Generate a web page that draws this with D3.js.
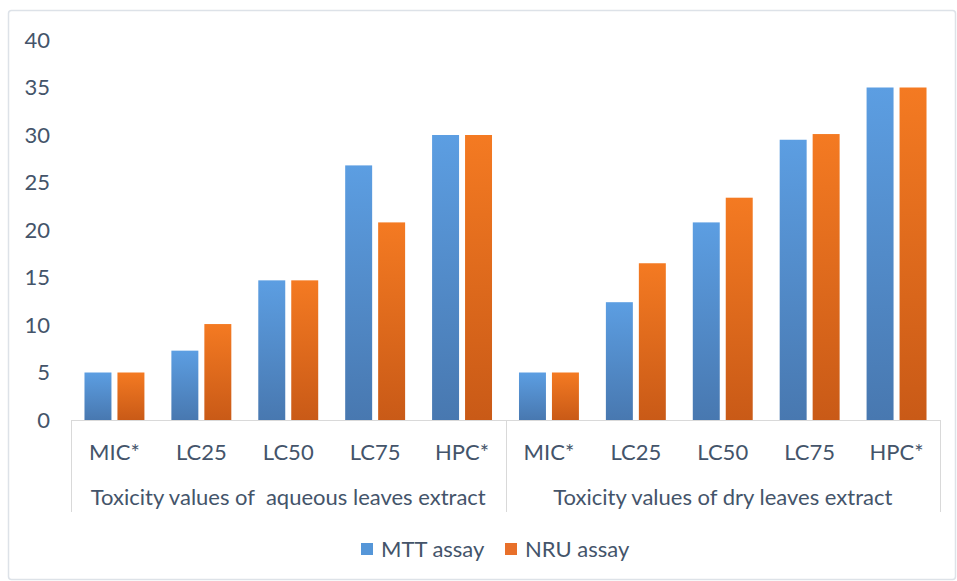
<!DOCTYPE html>
<html>
<head>
<meta charset="utf-8">
<script src="https://cdn.jsdelivr.net/npm/d3@7"></script>
<style>
  body { margin: 0; background: #fff; }
  text { font-family: Lato, "Open Sans", sans-serif; fill: #44546a; white-space: pre; }
</style>
</head>
<body>
<div id="chart"></div>
<script>
// chart data
var groups = ["Toxicity values of  aqueous leaves extract", "Toxicity values of dry leaves extract"];
var categories = ["MIC*", "LC25", "LC50", "LC75", "HPC*"];
var seriesNames = ["MTT assay", "NRU assay"];
var mttAqueous = [5, 7.3, 14.7, 26.8, 30];
var nruAqueous = [5, 10.1, 14.7, 20.8, 30];
var mttDry = [5, 12.4, 20.8, 29.5, 35];
var nruDry = [5, 16.5, 23.4, 30.1, 35];
var yTicks = [0, 5, 10, 15, 20, 25, 30, 35, 40];

var svgWidth = 957;
var svgHeight = 581;
var fontSize = 22;

var margin = { top: 40, right: 17, bottom: 161, left: 71 };
var width = svgWidth - margin.left - margin.right;
var height = svgHeight - margin.top - margin.bottom;

var svg = d3.select("#chart")
    .append("svg")
    .attr("width", svgWidth)
    .attr("height", svgHeight);

// outer chart border
svg.append("rect")
    .attr("x", 8.5)
    .attr("y", 10.5)
    .attr("width", svgWidth - 10)
    .attr("height", svgHeight - 12)
    .attr("rx", 3)
    .attr("fill", "none")
    .attr("stroke", "#dde2e8")
    .attr("stroke-width", 1.5);

var defs = svg.append("defs");
function addGradient(id, top, bottom) {
    var g = defs.append("linearGradient")
        .attr("id", id)
        .attr("x1", 0).attr("y1", 0)
        .attr("x2", 0).attr("y2", 1);
    g.append("stop").attr("offset", "0%").attr("stop-color", top);
    g.append("stop").attr("offset", "100%").attr("stop-color", bottom);
}
addGradient("gradBlue", "#5c9ee2", "#4878b0");
addGradient("gradOrange", "#f47a22", "#c95a17");
var fills = ["url(#gradBlue)", "url(#gradOrange)"];
var legendColors = ["#5596d8", "#e8702a"];

var chartGroup = svg.append("g")
    .attr("transform", `translate(${margin.left}, ${margin.top})`);

// flatten to one row per category in each group
var rows = [];
groups.forEach(function(g, gi) {
    var mtt = gi === 0 ? mttAqueous : mttDry;
    var nru = gi === 0 ? nruAqueous : nruDry;
    categories.forEach(function(c, ci) {
        rows.push({ key: gi + "-" + c, group: gi, cat: c, values: [mtt[ci], nru[ci]] });
    });
});

var xGroup = d3.scaleBand()
    .domain(d3.range(groups.length))
    .range([0, width]);

var x0 = d3.scaleBand()
    .domain(rows.map(d => d.key))
    .range([0, width]);

var x1 = d3.scaleBand()
    .domain(d3.range(seriesNames.length))
    .range([0, x0.bandwidth()])
    .paddingInner(0.182)
    .paddingOuter(0.409);

var yLinearScale = d3.scaleLinear()
    .domain([0, 40])
    .range([height, 0]);

// y axis labels only
var leftAxis = d3.axisLeft(yLinearScale)
    .tickValues(yTicks)
    .tickSize(0)
    .tickPadding(21);

var yAxis = chartGroup.append("g").call(leftAxis);
yAxis.select(".domain").remove();
yAxis.selectAll("text")
    .attr("font-size", fontSize)
    .attr("fill", "#44546a")
    .style("font-family", "Lato, 'Open Sans', sans-serif");

// bars
var catGroups = chartGroup.selectAll(".cat")
    .data(rows)
    .enter()
    .append("g")
    .attr("transform", d => `translate(${x0(d.key)}, 0)`);

catGroups.selectAll("rect")
    .data(d => d.values)
    .enter()
    .append("rect")
    .attr("x", (d, i) => x1(i))
    .attr("y", d => yLinearScale(d))
    .attr("width", x1.bandwidth())
    .attr("height", d => height - yLinearScale(d))
    .attr("fill", (d, i) => fills[i]);

// category axis lines
var lineColor = "#d9d9d9";
chartGroup.append("line")
    .attr("x1", 0).attr("x2", width)
    .attr("y1", height + 0.5).attr("y2", height + 0.5)
    .attr("stroke", lineColor);

var bounds = [0, xGroup.bandwidth(), width];
chartGroup.selectAll(".sep")
    .data(bounds)
    .enter()
    .append("line")
    .attr("x1", d => Math.round(d) + 0.5)
    .attr("x2", d => Math.round(d) + 0.5)
    .attr("y1", height)
    .attr("y2", height + 92)
    .attr("stroke", lineColor);

// category labels
chartGroup.selectAll(".catLabel")
    .data(rows)
    .enter()
    .append("text")
    .attr("x", d => x0(d.key) + x0.bandwidth() / 2)
    .attr("y", height + 40)
    .attr("text-anchor", "middle")
    .attr("font-size", fontSize)
    .text(d => d.cat);

// group labels
chartGroup.selectAll(".groupLabel")
    .data(groups)
    .enter()
    .append("text")
    .attr("x", (d, i) => xGroup(i) + xGroup.bandwidth() / 2)
    .attr("y", height + 85)
    .attr("text-anchor", "middle")
    .attr("font-size", fontSize)
    .text(d => d);

// legend
var legend = svg.append("g")
    .attr("transform", "translate(361, 549)");

var legendX = [0, 144];
seriesNames.forEach(function(name, i) {
    legend.append("rect")
        .attr("x", legendX[i])
        .attr("y", -6)
        .attr("width", 12)
        .attr("height", 12)
        .attr("fill", legendColors[i]);
    legend.append("text")
        .attr("x", legendX[i] + 20)
        .attr("y", 8)
        .attr("font-size", fontSize)
        .text(name);
});
</script>
</body>
</html>
